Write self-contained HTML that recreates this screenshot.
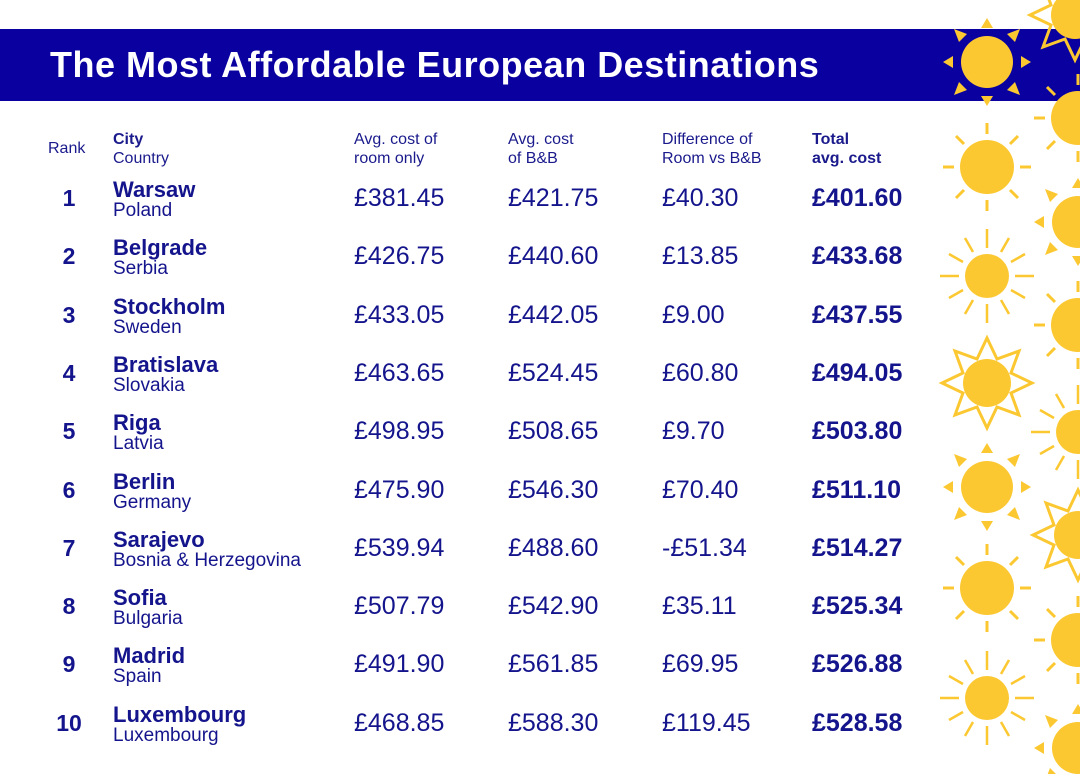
<!DOCTYPE html>
<html><head><meta charset="utf-8"><style>
body{margin:0;width:1080px;height:774px;background:#fff;position:relative;overflow:hidden;font-family:"Liberation Sans",sans-serif;color:#14148c}
.banner{position:absolute;left:0;top:29px;width:1080px;height:72px;background:#0a00a0}
.title{position:absolute;left:50px;top:44px;font-size:36px;font-weight:bold;color:#fff;letter-spacing:0.5px}
.h{position:absolute;font-size:16px;line-height:19px;color:#1a1a8c}
.r{position:absolute;left:0;width:940px;height:58px}
.r div{position:absolute}
.rank{left:52px;width:34px;text-align:center;top:7px;font-size:23px;font-weight:bold}
.city{left:113px;top:0;font-size:22px;font-weight:bold;line-height:24px}
.cty{left:113px;top:22px;font-size:19px;line-height:22px}
.n{top:6px;font-size:25px}
.t{left:812px;font-weight:bold}
svg{position:absolute;left:0;top:0}
</style></head><body>
<div class="banner"></div>
<div class="title">The Most Affordable European Destinations</div>
<div class="h" style="left:48px;top:139px">Rank</div>
<div class="h" style="left:113px;top:130px"><b>City</b><br>Country</div>
<div class="h" style="left:354px;top:130px">Avg. cost of<br>room only</div>
<div class="h" style="left:508px;top:130px">Avg. cost<br>of B&amp;B</div>
<div class="h" style="left:662px;top:130px">Difference of<br>Room vs B&amp;B</div>
<div class="h" style="left:812px;top:130px"><b>Total<br>avg. cost</b></div>

<div class="r" style="top:178px"><div class="rank">1</div><div class="city">Warsaw</div><div class="cty">Poland</div><div class="n" style="left:354px">£381.45</div><div class="n" style="left:508px">£421.75</div><div class="n" style="left:662px">£40.30</div><div class="n t">£401.60</div></div>
<div class="r" style="top:236px"><div class="rank">2</div><div class="city">Belgrade</div><div class="cty">Serbia</div><div class="n" style="left:354px">£426.75</div><div class="n" style="left:508px">£440.60</div><div class="n" style="left:662px">£13.85</div><div class="n t">£433.68</div></div>
<div class="r" style="top:295px"><div class="rank">3</div><div class="city">Stockholm</div><div class="cty">Sweden</div><div class="n" style="left:354px">£433.05</div><div class="n" style="left:508px">£442.05</div><div class="n" style="left:662px">£9.00</div><div class="n t">£437.55</div></div>
<div class="r" style="top:353px"><div class="rank">4</div><div class="city">Bratislava</div><div class="cty">Slovakia</div><div class="n" style="left:354px">£463.65</div><div class="n" style="left:508px">£524.45</div><div class="n" style="left:662px">£60.80</div><div class="n t">£494.05</div></div>
<div class="r" style="top:411px"><div class="rank">5</div><div class="city">Riga</div><div class="cty">Latvia</div><div class="n" style="left:354px">£498.95</div><div class="n" style="left:508px">£508.65</div><div class="n" style="left:662px">£9.70</div><div class="n t">£503.80</div></div>
<div class="r" style="top:470px"><div class="rank">6</div><div class="city">Berlin</div><div class="cty">Germany</div><div class="n" style="left:354px">£475.90</div><div class="n" style="left:508px">£546.30</div><div class="n" style="left:662px">£70.40</div><div class="n t">£511.10</div></div>
<div class="r" style="top:528px"><div class="rank">7</div><div class="city">Sarajevo</div><div class="cty">Bosnia &amp; Herzegovina</div><div class="n" style="left:354px">£539.94</div><div class="n" style="left:508px">£488.60</div><div class="n" style="left:662px">-£51.34</div><div class="n t">£514.27</div></div>
<div class="r" style="top:586px"><div class="rank">8</div><div class="city">Sofia</div><div class="cty">Bulgaria</div><div class="n" style="left:354px">£507.79</div><div class="n" style="left:508px">£542.90</div><div class="n" style="left:662px">£35.11</div><div class="n t">£525.34</div></div>
<div class="r" style="top:644px"><div class="rank">9</div><div class="city">Madrid</div><div class="cty">Spain</div><div class="n" style="left:354px">£491.90</div><div class="n" style="left:508px">£561.85</div><div class="n" style="left:662px">£69.95</div><div class="n t">£526.88</div></div>
<div class="r" style="top:703px"><div class="rank">10</div><div class="city">Luxembourg</div><div class="cty">Luxembourg</div><div class="n" style="left:354px">£468.85</div><div class="n" style="left:508px">£588.30</div><div class="n" style="left:662px">£119.45</div><div class="n t">£528.58</div></div>

<svg width="1080" height="774" fill="#fcc832" stroke="#fcc832">
<defs>
<g id="tri"><circle r="26" stroke="none"/><g stroke="none"><polygon points="-6,-34 6,-34 0,-44"/><polygon points="-6,34 6,34 0,44"/><polygon points="-34,-6 -34,6 -44,0"/><polygon points="34,-6 34,6 44,0"/><polygon points="-28,-20 -20,-28 -33,-33"/><polygon points="28,-20 20,-28 33,-33"/><polygon points="-28,20 -20,28 -33,33"/><polygon points="28,20 20,28 33,33"/></g></g>
<g id="lin" stroke-width="3"><circle r="27" stroke="none"/><line x1="0" y1="-33" x2="0" y2="-44"/><line x1="0" y1="33" x2="0" y2="44"/><line x1="-33" y1="0" x2="-44" y2="0"/><line x1="33" y1="0" x2="44" y2="0"/><line x1="23" y1="23" x2="31" y2="31"/><line x1="-23" y1="23" x2="-31" y2="31"/><line x1="23" y1="-23" x2="31" y2="-31"/><line x1="-23" y1="-23" x2="-31" y2="-31"/></g>
<g id="many" stroke-width="2.5"><circle r="22" stroke="none"/>
<g><line x1="0" y1="-28" x2="0" y2="-47"/><line x1="0" y1="28" x2="0" y2="47"/><line x1="-28" y1="0" x2="-47" y2="0"/><line x1="28" y1="0" x2="47" y2="0"/><line x1="14" y1="-24" x2="22" y2="-38"/><line x1="-14" y1="-24" x2="-22" y2="-38"/><line x1="14" y1="24" x2="22" y2="38"/><line x1="-14" y1="24" x2="-22" y2="38"/><line x1="24" y1="-14" x2="38" y2="-22"/><line x1="-24" y1="-14" x2="-38" y2="-22"/><line x1="24" y1="14" x2="38" y2="22"/><line x1="-24" y1="14" x2="-38" y2="22"/></g></g>
<g id="star"><circle r="24" stroke="none"/><polygon fill="none" stroke-width="3" points="0,-45 10,-24 32,-32 24,-10 45,0 24,10 32,32 10,24 0,45 -10,24 -32,32 -24,10 -45,0 -24,-10 -32,-32 -10,-24"/></g>
</defs>
<use href="#tri" x="987" y="62"/>
<use href="#lin" x="987" y="167"/>
<use href="#many" x="987" y="276"/>
<use href="#star" x="987" y="383"/>
<use href="#tri" x="987" y="487"/>
<use href="#lin" x="987" y="588"/>
<use href="#many" x="987" y="698"/>
<use href="#star" x="1075" y="15"/>
<use href="#lin" x="1078" y="118"/>
<use href="#tri" x="1078" y="222"/>
<use href="#lin" x="1078" y="325"/>
<use href="#many" x="1078" y="432"/>
<use href="#star" x="1078" y="535"/>
<use href="#lin" x="1078" y="640"/>
<use href="#tri" x="1078" y="748"/>
</svg>
</body></html>
